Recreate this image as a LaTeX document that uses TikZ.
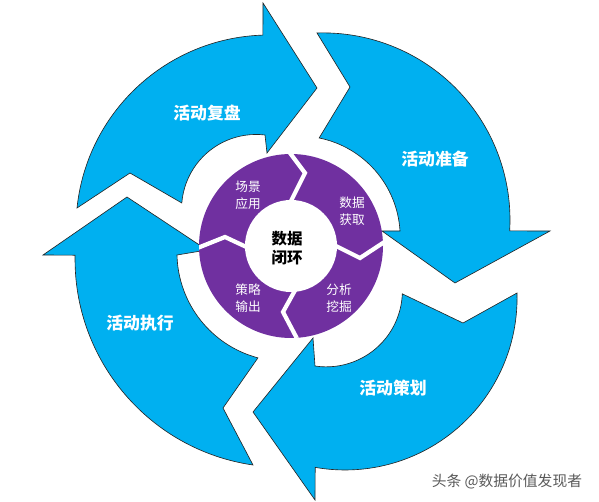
\documentclass[tikz,border=0pt]{standalone}
\usepackage{fontspec}
\usepackage{tikz}
\newfontfamily\cjk{Noto Sans CJK SC}
\definecolor{cycleblue}{HTML}{00B0F0}
\definecolor{ringpurple}{HTML}{7030A0}

\begin{document}
\begin{tikzpicture}[x=0.025cm, y=0.025cm,
  band/.style={fill=cycleblue, draw=black!85, line width=0.45pt, line join=miter},
  bandlabel/.style={font=\cjk\bfseries\fontsize{12}{14}\selectfont, text=white},
  ringlabel/.style={font=\cjk\fontsize{9}{12}\selectfont, text=white, align=center},
  cut/.style={draw=white, line width=3pt, line join=miter}]
\useasboundingbox (0,0) rectangle (599,501);

\draw[band] (77,293) arc[start angle=174.05, end angle=91.8, radius=193] -- (263,498) -- (317,413) -- (267,348) -- (265,366) arc[start angle=83.1, end angle=175.4, radius=74.5] -- (130,328) -- cycle;
\draw[band] (317,468) arc[start angle=91.84, end angle=-3.37, radius=187] -- (550,270) -- (455,218) -- (382,270) -- (400,270) arc[start angle=3.4, end angle=78.6, radius=101] -- (350,414) -- cycle;
\draw[band] (517,208) arc[start angle=1.66, end angle=-100, radius=172] -- (315,1) -- (253,89) -- (313,163) -- (315,135) arc[start angle=-98.6, end angle=-2.25, radius=76] -- (463,178) -- cycle;
\draw[band] (253,36) arc[start angle=261.7, end angle=178.9, radius=208] -- (43,246) -- (127,304) -- (207,251) -- (177,246) arc[start angle=181.3, end angle=255.1, radius=109] -- (223,93) -- cycle;

\fill[ringpurple] (291,255) circle (92);
\begin{scope}
\clip (291,255) circle (92);
\draw[cut] (284,356) -- (305,328) -- (291,300);
\draw[cut] (392,264) -- (360,243) -- (330,258);
\draw[cut] (298,216) -- (283,189) -- (302,153);
\draw[cut] (195,252) -- (225,264) -- (255,250);
\end{scope}
\fill[white] (291,255) circle (46);

\node[bandlabel] (fupan) at (207,388) {活动复盘};
\node[bandlabel] (zhunbei) at (435,342) {活动准备};
\node[bandlabel] (cehua) at (393,113) {活动策划};
\node[bandlabel] (zhixing) at (140,178) {活动执行};

\node[ringlabel] (yingyong) at (248,306) {场景\\应用};
\node[ringlabel] (huoqu) at (352,290) {数据\\获取};
\node[ringlabel] (wajue) at (339,203) {分析\\挖掘};
\node[ringlabel] (shuchu) at (248,203) {策略\\输出};
\node[font=\cjk\bfseries\fontsize{11}{14}\selectfont, align=center] (bihuan) at (287,253) {数据\\闭环};

\node[font=\cjk\fontsize{10.5}{12}\selectfont, text=black!65, anchor=east] (mark) at (587,19) {头条 @数据价值发现者};
\end{tikzpicture}
\end{document}
